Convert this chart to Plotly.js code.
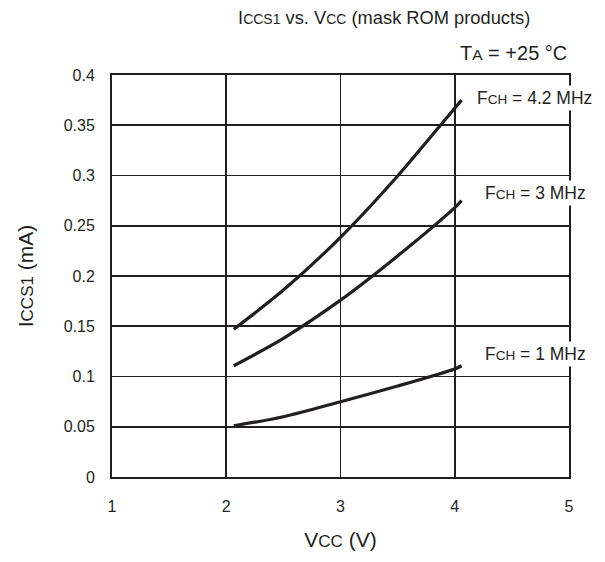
<!DOCTYPE html>
<html>
<head>
<meta charset="utf-8">
<script src="https://cdn.plot.ly/plotly-3.0.1.min.js"></script>
<style>html,body{margin:0;padding:0;background:#fff;}</style>
</head>
<body>
<div id="chart" style="width:605px;height:562px;"></div>
<script>
var vcc = [2.066, 2.5, 3, 3.5, 4, 4.06];
var icc42 = [0.147, 0.186, 0.2385, 0.2995, 0.367, 0.375];
var icc3 = [0.1107, 0.138, 0.176, 0.220, 0.268, 0.275];
var icc1 = [0.051, 0.060, 0.0749, 0.0905, 0.1075, 0.1107];
var seriesLabels = ['F<span style="font-size:13.5px">CH</span> = 4.2 MHz',
                    'F<span style="font-size:13.5px">CH</span> = 3 MHz',
                    'F<span style="font-size:13.5px">CH</span> = 1 MHz'];
var xTicks = [1, 2, 3, 4, 5];
var yTicks = [0, 0.05, 0.1, 0.15, 0.2, 0.25, 0.3, 0.35, 0.4];
var yTickText = ['0', '0.05', '0.1', '0.15', '0.2', '0.25', '0.3', '0.35', '0.4'];

var ink = '#231f20';
var font = 'Liberation Sans, Arial, sans-serif';
var lineStyle = {color: ink, width: 3.2, shape: 'spline', smoothing: 0.8};
var series = [icc42, icc3, icc1];
var traces = series.map(function (ys) {
  return {x: vcc, y: ys, mode: 'lines', line: lineStyle, hoverinfo: 'skip', showlegend: false};
});

var annotations = series.map(function (ys, i) {
  return {
    x: vcc[vcc.length - 1], y: ys[ys.length - 1], xref: 'x', yref: 'y',
    text: seriesLabels[i], showarrow: false, xanchor: 'left', yanchor: 'middle',
    xshift: i === 0 ? 12 : 20, yshift: i === 0 ? 2 : (i === 1 ? 8 : 12),
    bgcolor: '#ffffff', borderpad: 2,
    font: {family: font, size: 17.5, color: ink}
  };
});
annotations.push({
  x: 1, y: 1, xref: 'paper', yref: 'paper', xanchor: 'right', yanchor: 'bottom',
  yshift: 9, showarrow: false,
  text: 'T<span style="font-size:15.5px">A</span> = +25 °C',
  font: {family: font, size: 20, color: ink}
});

var layout = {
  width: 605, height: 562,
  margin: {l: 112, r: 36, t: 75, b: 85},
  paper_bgcolor: '#ffffff', plot_bgcolor: '#ffffff',
  font: {family: font, color: ink},
  title: {
    text: 'I<span style="font-size:14px">CCS1</span> vs. V<span style="font-size:14px">CC</span> (mask ROM products)',
    x: 0.635, xanchor: 'center', y: 0.968, yanchor: 'middle',
    font: {family: font, size: 18.3, color: ink}
  },
  xaxis: {
    range: [1, 5], tickvals: xTicks, ticktext: xTicks.map(String),
    showgrid: true, gridcolor: ink, gridwidth: 1.6,
    showline: true, linecolor: ink, linewidth: 2, mirror: true,
    zeroline: false, ticks: '', ticklabelstandoff: 14,
    tickfont: {family: font, size: 16, color: ink},
    title: {text: 'V<span style="font-size:17px">CC</span> (V)', standoff: 18,
            font: {family: font, size: 21, color: ink}}
  },
  yaxis: {
    range: [0, 0.4], tickvals: yTicks, ticktext: yTickText,
    showgrid: true, gridcolor: ink, gridwidth: 1.6,
    showline: true, linecolor: ink, linewidth: 2, mirror: true,
    zeroline: false, ticks: '', ticklabelstandoff: 12,
    tickfont: {family: font, size: 16, color: ink},
    title: {text: 'I<span style="font-size:17px">CCS1</span> (mA)', standoff: 24,
            font: {family: font, size: 21, color: ink}}
  },
  annotations: annotations
};

Plotly.newPlot('chart', traces, layout, {displayModeBar: false, staticPlot: true});
</script>
</body>
</html>
